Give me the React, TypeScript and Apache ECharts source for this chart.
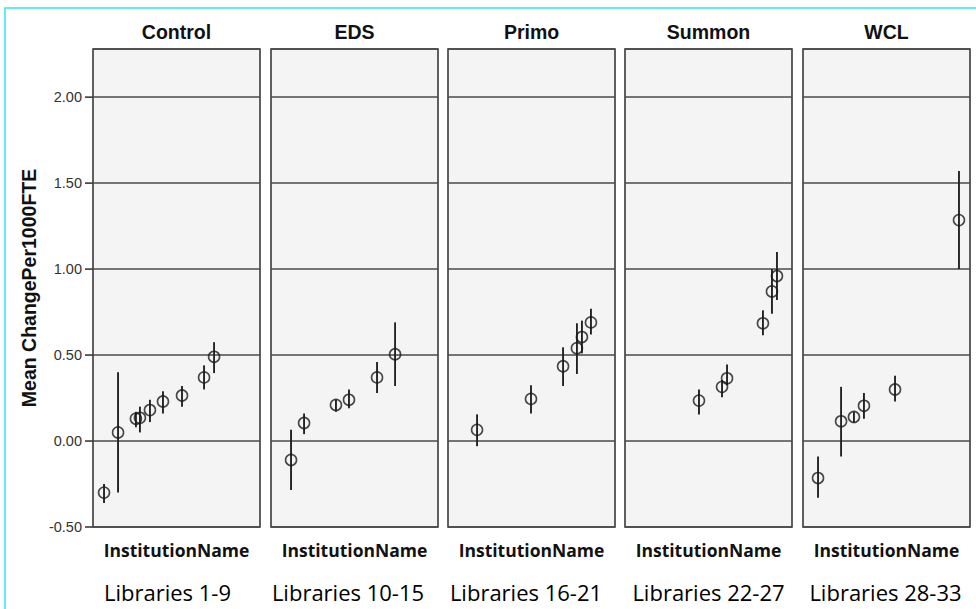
import React, { useEffect, useRef } from "react";
import * as echarts from "echarts";

const panelNames = ["Control", "EDS", "Primo", "Summon", "WCL"];
const libraryLabels = ["Libraries 1-9", "Libraries 10-15", "Libraries 16-21", "Libraries 22-27", "Libraries 28-33"];
const yTicks = [-0.5, 0, 0.5, 1, 1.5, 2];

const controlX = [6.6, 15, 25.7, 28.1, 34.1, 41.9, 53.3, 66.5, 72.5];
const controlMean = [-0.3, 0.05, 0.13, 0.135, 0.18, 0.23, 0.265, 0.37, 0.49];
const controlLow = [-0.36, -0.3, 0.08, 0.05, 0.11, 0.16, 0.2, 0.3, 0.395];
const controlHigh = [-0.25, 0.4, 0.17, 0.2, 0.24, 0.29, 0.32, 0.44, 0.575];

const edsX = [12, 19.8, 38.9, 46.7, 63.5, 74.3];
const edsMean = [-0.11, 0.105, 0.21, 0.24, 0.37, 0.505];
const edsLow = [-0.285, 0.04, 0.17, 0.19, 0.28, 0.32];
const edsHigh = [0.065, 0.16, 0.24, 0.3, 0.46, 0.69];

const primoX = [17.4, 49.7, 68.9, 77.2, 80.2, 85.6];
const primoMean = [0.065, 0.245, 0.435, 0.54, 0.605, 0.69];
const primoLow = [-0.03, 0.16, 0.32, 0.39, 0.51, 0.62];
const primoHigh = [0.155, 0.325, 0.545, 0.685, 0.7, 0.77];

const summonX = [44.3, 58.1, 61.1, 82.6, 88, 91];
const summonMean = [0.235, 0.315, 0.365, 0.685, 0.87, 0.96];
const summonLow = [0.155, 0.255, 0.325, 0.615, 0.74, 0.82];
const summonHigh = [0.3, 0.355, 0.445, 0.76, 1.0, 1.1];

const wclX = [9, 22.8, 30.5, 36.5, 55.1, 93.4];
const wclMean = [-0.215, 0.115, 0.14, 0.205, 0.3, 1.285];
const wclLow = [-0.33, -0.09, 0.105, 0.13, 0.23, 1.0];
const wclHigh = [-0.09, 0.315, 0.17, 0.28, 0.38, 1.57];

const panelX = [controlX, edsX, primoX, summonX, wclX];
const panelMean = [controlMean, edsMean, primoMean, summonMean, wclMean];
const panelLow = [controlLow, edsLow, primoLow, summonLow, wclLow];
const panelHigh = [controlHigh, edsHigh, primoHigh, summonHigh, wclHigh];

const GRID_LEFTS = [93, 271, 448, 625, 803];
const GRID_W = 167;
const GRID_TOP = 49;
const GRID_H = 478;
const Y_MIN = -0.5;
const Y_MAX = 2.28;
const LIB_CENTERS = [167.5, 348, 526, 708.5, 885.5];
const TICK_LEN = 8;

export default function App() {
  const ref = useRef<HTMLDivElement>(null);
  useEffect(() => {
    document.body.style.margin = "0";
    if (!ref.current) return;
    const chart = echarts.init(ref.current, null, { renderer: "svg" });

    const grids = GRID_LEFTS.map((left) => ({
      left,
      top: GRID_TOP,
      width: GRID_W,
      height: GRID_H,
      show: true,
      backgroundColor: "#f4f4f4",
      borderColor: "#3a3a3a",
      borderWidth: 1.6,
    }));

    const xAxes = panelNames.map((_, i) => ({
      type: "value",
      gridIndex: i,
      min: 0,
      max: 100,
      axisLine: { show: false },
      axisTick: { show: false },
      axisLabel: { show: false },
      splitLine: { show: false },
      name: "InstitutionName",
      nameLocation: "middle",
      nameGap: 14,
      nameTextStyle: {
        fontFamily: "Open Sans",
        fontWeight: "bold",
        fontSize: 17.5,
        color: "#111",
      },
    }));

    const isHalf = (v: number) => Math.abs(v * 2 - Math.round(v * 2)) < 1e-6;

    const yAxes = panelNames.map((_, i) => ({
      type: "value",
      gridIndex: i,
      min: Y_MIN,
      max: Y_MAX,
      interval: 0.5,
      axisLine: { show: false },
      axisTick: { show: false },
      axisLabel: {
        show: i === 0,
        margin: 11,
        fontFamily: "Liberation Sans",
        fontSize: 14.5,
        color: "#333",
        showMaxLabel: false,
        formatter: (v: number) => (isHalf(v) ? v.toFixed(2) : ""),
      },
      splitLine: { show: true, lineStyle: { color: "#4a4a4a", width: 1.6 } },
    }));

    const series: any[] = [];
    panelNames.forEach((_, i) => {
      const xs = panelX[i];
      series.push({
        type: "custom",
        xAxisIndex: i,
        yAxisIndex: i,
        data: xs.map((x, k) => [x, panelLow[i][k], panelHigh[i][k]]),
        encode: { x: 0, y: [1, 2] },
        renderItem: (_p: any, api: any) => {
          const x = api.value(0);
          const lo = api.coord([x, api.value(1)]);
          const hi = api.coord([x, api.value(2)]);
          return {
            type: "line",
            shape: { x1: lo[0], y1: lo[1], x2: hi[0], y2: hi[1] },
            style: { stroke: "#222", lineWidth: 1.9 },
          };
        },
        z: 3,
      });
      series.push({
        type: "scatter",
        xAxisIndex: i,
        yAxisIndex: i,
        data: xs.map((x, k) => [x, panelMean[i][k]]),
        symbol: "circle",
        symbolSize: 11,
        itemStyle: { color: "rgba(0,0,0,0)", borderColor: "#1a1a1a", borderWidth: 1.6 },
        z: 4,
      });
    });

    const graphic: any[] = [
      {
        type: "rect",
        shape: { x: 5, y: 8, width: 1000, height: 700 },
        style: { fill: "none", stroke: "#2ee8f0", lineWidth: 1.5 },
        silent: true,
      },
      {
        type: "text",
        x: 29,
        y: 288,
        rotation: Math.PI / 2,
        style: {
          text: "Mean ChangePer1000FTE",
          fontFamily: "Liberation Sans",
          fontWeight: "bold",
          fontSize: 19.5,
          fill: "#111",
          textAlign: "center",
          textVerticalAlign: "middle",
        },
      },
    ];
    panelNames.forEach((name, i) => {
      const cx = GRID_LEFTS[i] + GRID_W / 2;
      graphic.push({
        type: "text",
        x: cx,
        y: 32,
        style: {
          text: name,
          fontFamily: "Liberation Sans",
          fontWeight: "bold",
          fontSize: 19.5,
          fill: "#111",
          textAlign: "center",
          textVerticalAlign: "middle",
        },
      });
      graphic.push({
        type: "text",
        x: LIB_CENTERS[i],
        y: 592,
        style: {
          text: libraryLabels[i],
          fontFamily: "Open Sans",
          fontSize: 22,
          fill: "#000",
          textAlign: "center",
          textVerticalAlign: "middle",
        },
      });
    });

    chart.setOption({
      animation: false,
      backgroundColor: "#fff",
      grid: grids,
      xAxis: xAxes,
      yAxis: yAxes,
      series,
      graphic,
    });

    // tick marks positioned through the first panel's own axis scale
    const x0 = chart.convertToPixel({ xAxisIndex: 0 } as any, 0) as number;
    const tickEls = yTicks.map((v) => {
      const y = chart.convertToPixel({ yAxisIndex: 0 } as any, v) as number;
      return {
        type: "line",
        shape: { x1: x0 - TICK_LEN, y1: y, x2: x0, y2: y },
        style: { stroke: "#3a3a3a", lineWidth: 1.6 },
        silent: true,
        z: 10,
      };
    });
    chart.setOption({ graphic: [...graphic, ...tickEls] });

    return () => chart.dispose();
  }, []);
  return <div ref={ref} style={{ width: 976, height: 609 }} />;
}
